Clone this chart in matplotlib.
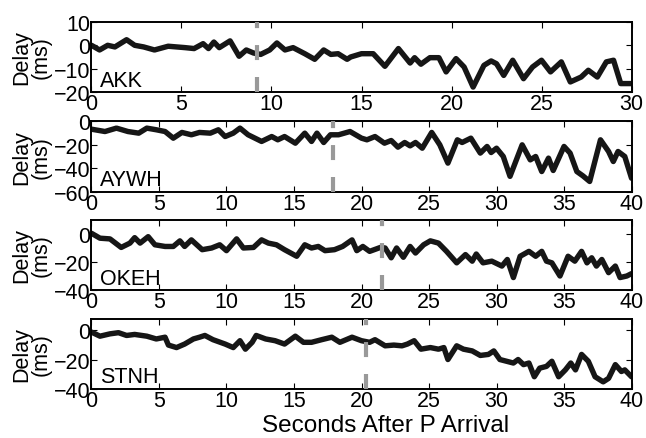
import numpy as np
import matplotlib
matplotlib.use("Agg")
import matplotlib.pyplot as plt

plt.rcParams['font.family'] = ['Liberation Sans', 'DejaVu Sans']
plt.rcParams['lines.scale_dashes'] = False

# station names and P-wave marker times
stations = ["AKK", "AYWH", "OKEH", "STNH"]
marker_t = [9.2, 17.9, 21.5, 20.3]

# AKK delay (ms) vs seconds after P
akk_t = [0, 0.45, 0.9, 1.3, 1.95, 2.4, 2.9, 3.5, 4.26, 5.2, 5.7, 6.2, 6.5, 6.8, 7.1,
         7.7, 8.2, 8.6, 9.0, 9.4, 9.9, 10.3, 10.75, 11.2, 11.85, 12.4, 12.9, 13.3,
         13.7, 14.2, 14.4, 15.0, 15.65, 16.3, 17.05, 17.7, 17.95, 18.3, 18.8, 19.3,
         19.7, 20.25, 20.7, 21.2, 21.8, 22.2, 22.5, 22.9, 23.4, 24.0, 24.5, 25.0,
         25.5, 26.1, 26.6, 27.2, 27.6, 28.1, 28.6, 29.0, 29.4, 30.0]
akk_d = [0, -2, 0, -0.7, 2.4, 0, -0.7, -2, -0.4, -1, -1.4, 0.7, -1.4, 1.4, -1,
         1.9, -4.7, -2, -3.3, -3.9, -2, 1, -2, -1, -3.6, -6, -2, -3.9,
         -3.6, -6, -5, -3.6, -3.6, -9, -1.4, -7.6, -5.3, -8.1, -5.3, -5.3,
         -11.4, -5.7, -9.3, -17.9, -8.6, -6.7, -7.9, -12.9, -6.4, -14.3, -9.3, -6.4,
         -11.4, -7.1, -15.7, -13.6, -10.7, -13.6, -7.1, -6.4, -16.4, -16.4]

# AYWH
aywh_t = [0, 1.0, 1.85, 2.7, 3.5, 4.1, 4.8, 5.45, 6.06, 6.7, 7.4, 8.0, 8.8, 9.4, 9.9,
          10.5, 11.0, 11.6, 12.6, 13.35, 13.8, 14.3, 15.1, 15.8, 16.3, 16.7, 17.2,
          17.7, 18.3, 19.15, 20.0, 20.4, 21.0, 21.7, 22.2, 22.7, 23.2, 23.6, 24.0,
          24.5, 25.2, 25.8, 26.4, 27.1, 27.45, 28.1, 28.8, 29.3, 29.6, 30.0, 30.5,
          31.0, 31.9, 32.5, 32.9, 33.35, 33.85, 34.2, 35.0, 35.45, 35.95, 36.4,
          36.9, 37.7, 38.3, 38.65, 39.0, 39.5, 40.0]
aywh_d = [-6.6, -8.6, -5.7, -8.6, -10, -5.7, -7.1, -8.6, -14.3, -9.4, -11.4, -9.4, -10, -7.1, -12.9,
          -10, -5.7, -11.4, -17.1, -12.9, -15.7, -12.9, -18.6, -10, -17.1, -10, -18,
          -11.4, -11.4, -8.6, -14.3, -15.7, -12.9, -18.6, -16.3, -22, -18, -20.9, -18,
          -22.9, -9.4, -20, -35.7, -15.7, -18, -14.3, -27.1, -21.4, -26.6, -22.9, -30,
          -47, -20, -32.9, -30, -42.9, -31.4, -42, -21.4, -27.1, -42.9, -46.6,
          -51.4, -15.7, -25.7, -34.3, -25.7, -30, -48.6]

# OKEH
okeh_t = [0, 0.63, 1.37, 2.2, 2.85, 3.2, 3.6, 4.2, 4.7, 5.45, 6.06, 6.55, 6.9, 7.4,
          8.2, 8.9, 9.5, 10.0, 10.75, 11.25, 12.0, 12.6, 13.1, 13.7, 14.3, 15.2,
          15.8, 16.3, 16.8, 17.3, 18.0, 18.6, 19.3, 19.65, 20.1, 20.6, 21.4, 21.75,
          22.2, 22.6, 23.1, 23.6, 24.0, 24.6, 25.1, 25.7, 26.3, 27.05, 27.7, 28.2,
          28.5, 29.0, 29.65, 30.4, 30.8, 31.25, 31.75, 32.4, 32.9, 33.35, 33.7,
          34.1, 34.7, 35.3, 35.8, 36.3, 36.7, 37.05, 37.4, 37.8, 38.3, 38.8, 39.15,
          39.65, 40.0]
okeh_d = [0.5, -3, -3.5, -9.6, -6.5, -2.6, -6.5, -1.9, -7.7, -8.9, -8.9, -4.9, -8.9, -4.2,
          -11.2, -10, -7.7, -11.9, -3.5, -10, -9.6, -4.2, -6.5, -7.7, -11.2, -15.9,
          -7.7, -10, -8.9, -11.9, -11.2, -8.9, -4.2, -11.9, -8.9, -12.4, -9.6, -10,
          -17, -10, -16.6, -8.9, -13.6, -7.7, -4.9, -6.5, -12.4, -20.6, -14.7, -19.4,
          -14.3, -20.6, -19.4, -22.9, -18.2, -31.1, -15.9, -12.4, -15.9, -12.4, -19.4,
          -20.6, -30, -15.9, -19.4, -12.4, -20.6, -17, -22.9, -18.2, -27.6, -22.9, -31.1,
          -30, -28.3]

# STNH
stnh_t = [0, 0.63, 1.37, 2.0, 2.6, 3.2, 4.1, 4.8, 5.45, 5.7, 6.3, 6.9, 7.55, 8.0, 8.4,
          9.0, 9.9, 10.5, 11.0, 11.4, 11.9, 12.2, 12.9, 13.6, 14.3, 15.1, 15.7, 16.3,
          17.05, 17.8, 18.4, 19.3, 20.0, 20.6, 21.0, 21.75, 22.4, 23.0, 23.4, 23.9,
          24.4, 25.1, 25.7, 26.1, 26.4, 27.05, 27.55, 28.2, 28.8, 29.4, 29.8, 30.25,
          30.75, 31.25, 31.6, 32.0, 32.4, 32.8, 33.2, 33.7, 34.1, 34.6, 35.1, 35.5,
          35.85, 36.3, 36.8, 37.3, 37.9, 38.3, 38.8, 39.25, 39.5, 40.0]
stnh_d = [-1.2, -4, -2.4, -1.6, -3.5, -2.8, -4, -5.9, -4.7, -10.1, -11.8, -9.4, -5.9, -4.7, -3.5,
          -6.4, -9.4, -11.8, -7.1, -12.9, -8.2, -3.5, -5.9, -7.1, -9.4, -4, -8.2, -8.2,
          -6.4, -4.7, -8.2, -4.7, -7.1, -8.2, -6.4, -10.6, -10.1, -10.6, -9.4, -7.1,
          -12.9, -11.8, -12.9, -11.8, -20, -10.6, -12.9, -14.1, -17.2, -16.5, -14.1, -20,
          -21.2, -22.4, -20, -23.5, -22.4, -31.8, -25.9, -24.7, -21.2, -31.8, -27.1, -22.4,
          -27.1, -16.5, -21.2, -31.8, -35.3, -32.9, -23.5, -28.2, -27.1, -31.8]

times = [akk_t, aywh_t, okeh_t, stnh_t]
delays = [akk_d, aywh_d, okeh_d, stnh_d]
xmax = [30, 40, 40, 40]
ylims = [(-20, 10), (-60, 0), (-40, 10), (-40, 8)]
yticks = [[-20, -10, 0, 10], [-60, -40, -20, 0], [-40, -20, 0], [-40, -20, 0]]

fig = plt.figure(figsize=(6.46, 4.39), dpi=100)
bottoms = [0.7882, 0.5615, 0.3371, 0.1123]

for i in range(4):
    ax = fig.add_axes([0.1416, bottoms[i], 0.836, 0.1595])
    ax.plot(times[i], delays[i], color="#161616", lw=3.9, solid_joinstyle='round',
            solid_capstyle='round', zorder=2)
    ax.axvline(marker_t[i], color="#999999", lw=3.0, dashes=(10.8, 12.2), zorder=3)
    ax.set_xlim(0, xmax[i])
    ax.set_ylim(ylims[i])
    ax.set_yticks(yticks[i])
    ax.set_xticks(np.arange(0, xmax[i] + 1, 5))
    ax.tick_params(direction='in', top=True, right=True, length=4, width=0.8,
                   labelsize=15.5, pad=1)
    for sp in ax.spines.values():
        sp.set_linewidth(1.4)
    ax.set_ylabel("Delay\n(ms)", fontsize=15.5, labelpad=1, linespacing=0.95)
    ax.text(0.015, 0.02, stations[i], transform=ax.transAxes, fontsize=15.5,
            ha='left', va='bottom')
    if i == 3:
        ax.set_xlabel("Seconds After P Arrival", fontsize=17.5)
        ax.xaxis.set_label_coords(0.545, -0.36)

plt.savefig("out.png", dpi=100)
